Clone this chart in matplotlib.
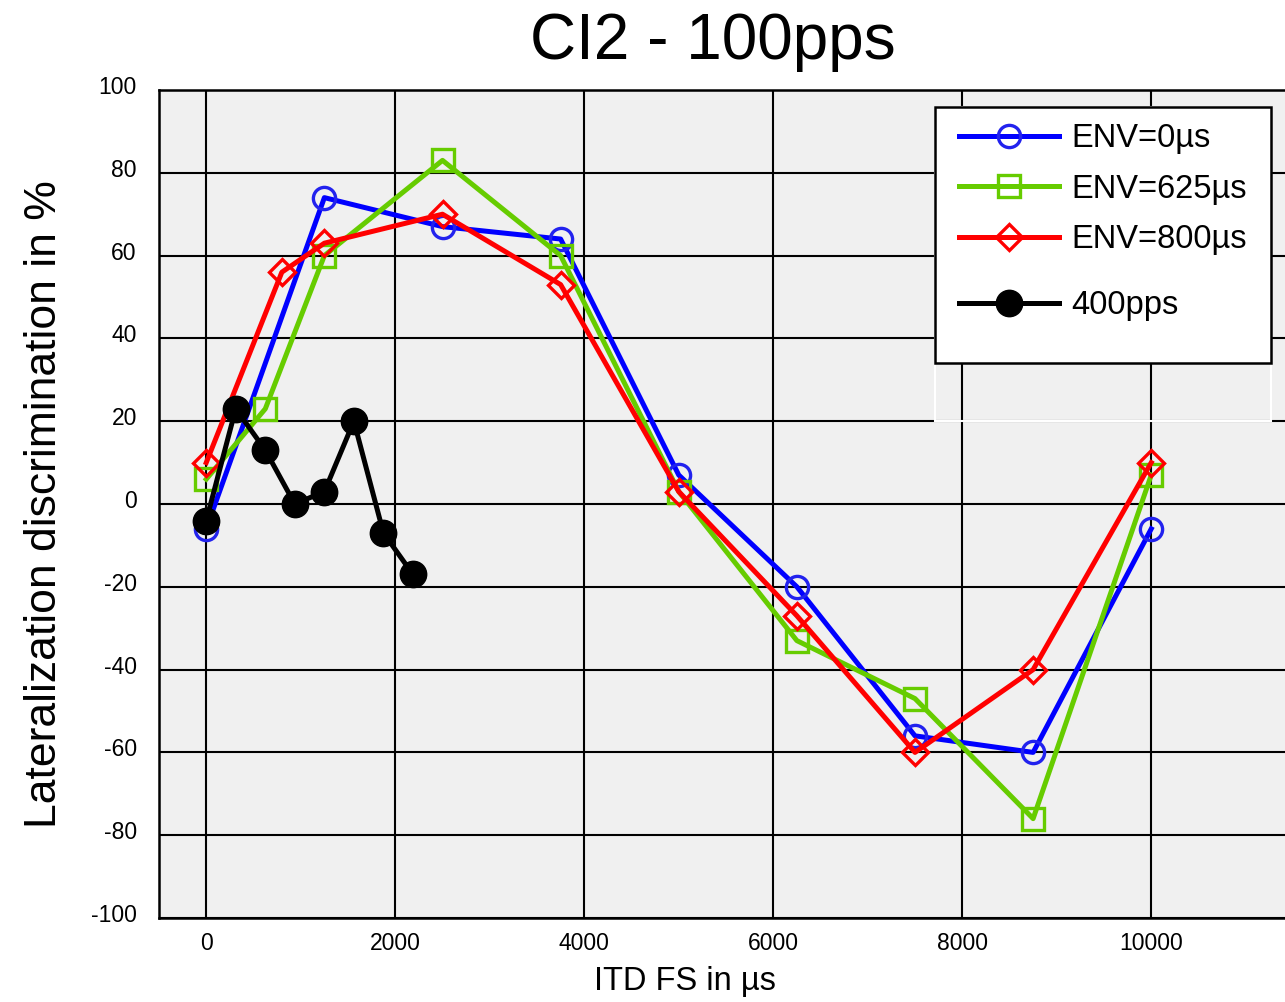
import matplotlib.pyplot as plt
import matplotlib.transforms as mtransforms
from matplotlib.patches import Rectangle

plt.rcParams['font.family'] = ['Liberation Sans', 'DejaVu Sans']
plt.rcParams['axes.unicode_minus'] = False

# ITD FS values (us) and lateralization discrimination (%)
itd_env0 = [0, 1250, 2500, 3750, 5000, 6250, 7500, 8750, 10000]
val_env0 = [-6, 74, 67, 64, 7, -20, -56, -60, -6]

itd_env625 = [0, 625, 1250, 2500, 3750, 5000, 6250, 7500, 8750, 10000]
val_env625 = [6, 23, 60, 83, 60, 3, -33, -47, -76, 7]

itd_env800 = [0, 800, 1250, 2500, 3750, 5000, 6250, 7500, 8750, 10000]
val_env800 = [10, 56, 63, 70, 53, 3, -27, -60, -40, 10]

itd_400pps = [0, 312, 625, 937, 1250, 1562, 1875, 2187]
val_400pps = [-4, 23, 13, 0, 3, 20, -7, -17]

x_ticks = [0, 2000, 4000, 6000, 8000, 10000]
y_ticks = [-100, -80, -60, -40, -20, 0, 20, 40, 60, 80, 100]

W, H = 1285, 1002
fig = plt.figure(figsize=(W / 100, H / 100), dpi=100)
ax = fig.add_axes([159 / W, 1 - 918 / H, (1293 - 159) / W, (918 - 90) / H])
ax.set_facecolor('#f0f0f0')

h0, = ax.plot(itd_env0, val_env0, color='#0000ff', lw=3.6, marker='o', ms=16,
              mfc='none', mew=2.4, mec='#2222ee', label='ENV=0µs')
h1, = ax.plot(itd_env625, val_env625, color='#66cc00', lw=3.6, marker='s', ms=16,
              mfc='none', mew=2.4, label='ENV=625µs')
h2, = ax.plot(itd_env800, val_env800, color='#ff0000', lw=3.6, marker='D', ms=13,
              mfc='none', mew=2.4, label='ENV=800µs')
h3, = ax.plot(itd_400pps, val_400pps, color='black', lw=3.6, marker='o', ms=19,
              label='400pps')

ax.set_xlim(-500, 11500)
ax.set_ylim(-100, 100)
ax.set_xticks(x_ticks)
ax.set_yticks(y_ticks)
ax.tick_params(length=0, labelsize=16.5)
ax.tick_params(axis='y', pad=16)
ax.tick_params(axis='x', pad=10)
ax.grid(True, color='black', lw=1.5)
ax.set_axisbelow(True)
for sp in ax.spines.values():
    sp.set_linewidth(1.8)

# y tick labels sit a little above their grid lines
offset = mtransforms.ScaledTranslation(0, 5 / 100, fig.dpi_scale_trans)
for lab in ax.get_yticklabels():
    lab.set_transform(lab.get_transform() + offset)

ax.set_title('CI2 - 100pps', fontsize=46, pad=22, x=(713 - 159) / 1134)
ax.set_xlabel('ITD FS in µs', fontsize=23.5)
ax.xaxis.set_label_coords((685 - 159) / 1134, (918 - 966) / 828)
ax.set_ylabel('Lateralization discrimination in %', fontsize=32)
ax.yaxis.set_label_coords(-0.083, 0.5)

# legend box drawn by hand (the original has extra space under the last entry)
ax.add_patch(Rectangle((935 / W, 1 - 421 / H), 336 / W, 314 / H,
                       transform=fig.transFigure, fill=False, clip_on=False,
                       edgecolor='white', lw=1.5, zorder=3))
ax.add_patch(Rectangle((935 / W, 1 - 363 / H), 336 / W, 256 / H,
                       transform=fig.transFigure, facecolor='white', clip_on=False,
                       edgecolor='black', lw=1.8, zorder=3))

leg_kw = dict(loc='upper left', bbox_transform=fig.transFigure, borderaxespad=0,
              borderpad=0, fontsize=23.5, handlelength=3.05, handletextpad=0.4,
              labelspacing=0.6, frameon=False)
leg1 = ax.legend(handles=[h0, h1, h2], bbox_to_anchor=(959 / W, 1 - 123 / H), **leg_kw)
leg1.set_zorder(4)
ax.add_artist(leg1)
leg2 = ax.legend(handles=[h3], bbox_to_anchor=(959 / W, 1 - 290 / H), **leg_kw)
leg2.set_zorder(4)

fig.savefig('out.png', dpi=100)
